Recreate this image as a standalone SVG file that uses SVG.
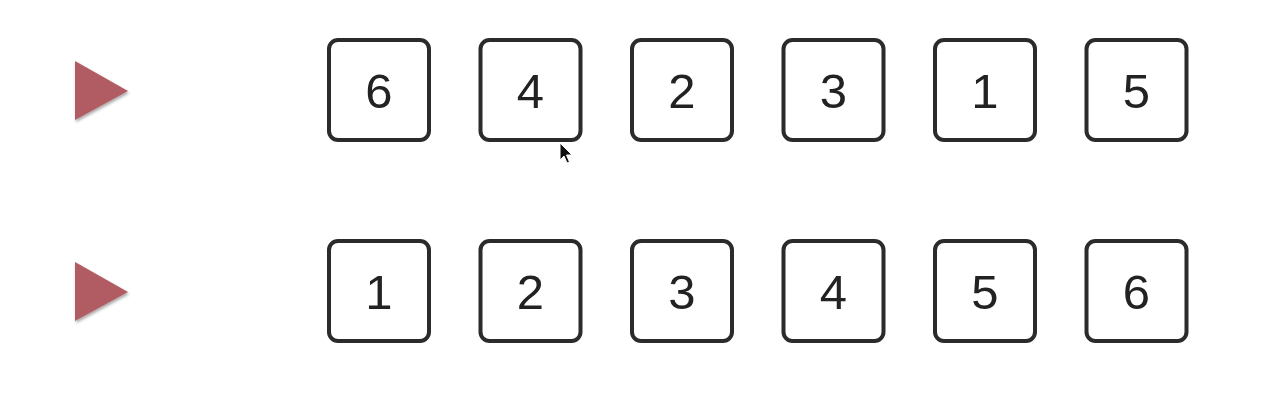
<svg xmlns="http://www.w3.org/2000/svg" width="1268" height="418" viewBox="0 0 1268 418">
<style>
.box{fill:#fff;stroke:#2b2b2b;stroke-width:4}
.num{font-family:"Liberation Sans",Arial,sans-serif;font-size:49px;fill:#222;text-anchor:middle}
.tri{fill:#b05c62}
</style>
<defs>
<filter id="sh" x="-30%" y="-30%" width="160%" height="160%">
<feDropShadow dx="1" dy="2" stdDeviation="1.5" flood-color="#000" flood-opacity="0.35"/>
</filter>
</defs>
<rect width="1268" height="418" fill="#fff"/>
<g id="marker1"><polygon class="tri" filter="url(#sh)" points="75,61 128,91 75,120"/></g>
<g id="marker2"><polygon class="tri" filter="url(#sh)" points="75,262 128,292 75,321"/></g>
<g id="row1">
<g id="a1"><rect class="box" x="329" y="40" width="100" height="100" rx="9"/><text class="num" x="379" y="108">6</text></g>
<g id="a2"><rect class="box" x="480.5" y="40" width="100" height="100" rx="9"/><text class="num" x="530.5" y="108">4</text></g>
<g id="a3"><rect class="box" x="632" y="40" width="100" height="100" rx="9"/><text class="num" x="682" y="108">2</text></g>
<g id="a4"><rect class="box" x="783.5" y="40" width="100" height="100" rx="9"/><text class="num" x="833.5" y="108">3</text></g>
<g id="a5"><rect class="box" x="935" y="40" width="100" height="100" rx="9"/><text class="num" x="985" y="108">1</text></g>
<g id="a6"><rect class="box" x="1086.5" y="40" width="100" height="100" rx="9"/><text class="num" x="1136.5" y="108">5</text></g>
</g>
<g id="row2">
<g id="b1"><rect class="box" x="329" y="241" width="100" height="100" rx="9"/><text class="num" x="379" y="309">1</text></g>
<g id="b2"><rect class="box" x="480.5" y="241" width="100" height="100" rx="9"/><text class="num" x="530.5" y="309">2</text></g>
<g id="b3"><rect class="box" x="632" y="241" width="100" height="100" rx="9"/><text class="num" x="682" y="309">3</text></g>
<g id="b4"><rect class="box" x="783.5" y="241" width="100" height="100" rx="9"/><text class="num" x="833.5" y="309">4</text></g>
<g id="b5"><rect class="box" x="935" y="241" width="100" height="100" rx="9"/><text class="num" x="985" y="309">5</text></g>
<g id="b6"><rect class="box" x="1086.5" y="241" width="100" height="100" rx="9"/><text class="num" x="1136.5" y="309">6</text></g>
</g>
<g id="connectors"></g>
<g id="cursor"><path d="M560,143 L560,160 L564,156 L567,163 L569.5,162 L566.5,155 L572,155 Z" fill="#111" stroke="#fff" stroke-width="1"/></g>
</svg>
